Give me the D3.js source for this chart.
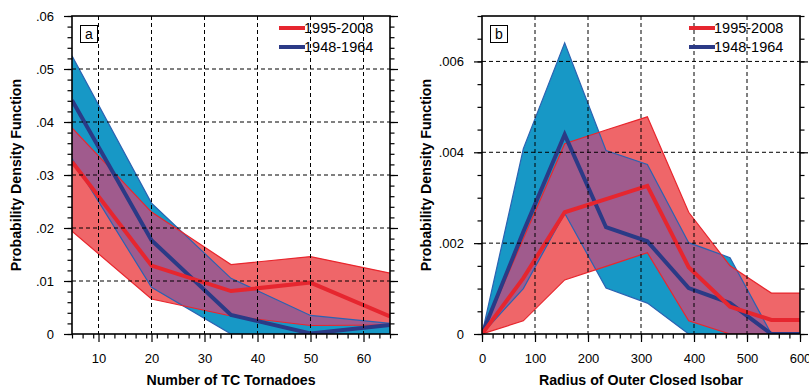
<!DOCTYPE html>
<html>
<head>
<meta charset="utf-8">
<script src="https://cdn.jsdelivr.net/npm/d3@7"></script>
<style>
  body { margin: 0; background: #fff; }
  svg { display: block; font-family: "Liberation Sans", Arial, Helvetica, sans-serif; }
</style>
</head>
<body>
<div id="chart"></div>
<script>
// legend names
var seriesNames = ["1995-2008", "1948-1964"];

// panel a : number of TC tornadoes
var tornadoX = [5, 20, 35, 50, 65];
var tornadoRecentMean = [0.0325, 0.0129, 0.0081, 0.0097, 0.0033];
var tornadoRecentHigh = [0.0389, 0.0230, 0.0131, 0.0146, 0.0115];
var tornadoRecentLow  = [0.0194, 0.0066, 0.0034, 0.0016, 0.0017];
var tornadoEarlyMean  = [0.0441, 0.0177, 0.0036, 0.0001, 0.0017];
var tornadoEarlyHigh  = [0.0525, 0.0247, 0.0105, 0.0035, 0.0020];
var tornadoEarlyLow   = [0.0331, 0.0088, 0.0, 0.0, 0.0];
var tornadoXTicks = [10, 20, 30, 40, 50, 60];
var tornadoYTicks = [0, 0.01, 0.02, 0.03, 0.04, 0.05, 0.06];

// panel b : radius of outer closed isobar
var radiusX = [0, 78, 156, 234, 312, 390, 468, 546, 624];
var radiusRecentMean = [0, 0.00123, 0.00268, 0.00297, 0.00326, 0.00147, 0.00060, 0.00031, 0.00031];
var radiusRecentHigh = [0, 0.00210, 0.00419, 0.00449, 0.00478, 0.00268, 0.00150, 0.00090, 0.00090];
var radiusRecentLow  = [0, 0.00029, 0.00119, 0.00149, 0.00179, 0.00029, 0, 0, 0];
var radiusEarlyMean  = [0, 0.00225, 0.00439, 0.00235, 0.00204, 0.00101, 0.00068, 0, 0];
var radiusEarlyHigh  = [0, 0.00408, 0.00641, 0.00404, 0.00373, 0.00201, 0.00168, 0, 0];
var radiusEarlyLow   = [0, 0.00100, 0.00266, 0.00101, 0.00068, 0, 0, 0, 0];
var radiusXTicks = [0, 100, 200, 300, 400, 500, 600];
var radiusYTicks = [0, 0.002, 0.004, 0.006];

var colors = {
  blueFill: "#1798c6", redFill: "#ef6669", overlap: "#a05b8d",
  blueEdge: "#2b62b2", redEdge: "#e8262d",
  blueMean: "#2b3a86", redMean: "#e6262f"
};

var svg = d3.select("#chart").append("svg")
            .attr("width", 809)
            .attr("height", 391);

function fmtY(d) {
  if (d === 0) return "0";
  return d3.format("")(+d.toPrecision(3)).replace(/^0\./, ".");
}

function drawPanel(p) {
  var x = d3.scaleLinear().domain(p.xDomain).range([p.left, p.right]);
  var y = d3.scaleLinear().domain(p.yDomain).range([p.bottom, p.top]);
  var g = svg.append("g");

  var clipId = "clip-" + p.name;
  g.append("clipPath").attr("id", clipId)
   .append("rect")
   .attr("x", p.left).attr("y", p.top)
   .attr("width", p.right - p.left).attr("height", p.bottom - p.top);

  var blueBand = p.x.map((v, i) => ({x: v, lo: p.earlyLow[i], hi: p.earlyHigh[i]}));
  var redBand  = p.x.map((v, i) => ({x: v, lo: p.recentLow[i], hi: p.recentHigh[i]}));

  var area = d3.area().x(d => x(d.x)).y0(d => y(d.lo)).y1(d => y(d.hi));
  var line = d3.line().x(d => x(d[0])).y(d => y(d[1]));

  var plot = g.append("g").attr("clip-path", "url(#" + clipId + ")");

  plot.append("path").attr("d", area(blueBand)).attr("fill", colors.blueFill);
  plot.append("path").attr("d", area(redBand)).attr("fill", colors.redFill);

  // overlap of both bands
  var ovId = "ov-" + p.name;
  g.append("clipPath").attr("id", ovId).append("path").attr("d", area(blueBand));
  plot.append("g").attr("clip-path", "url(#" + ovId + ")")
      .append("path").attr("d", area(redBand)).attr("fill", colors.overlap);

  // grid
  p.xTicks.forEach(function(t) {
    if (x(t) <= p.left + 1 || x(t) >= p.right - 1) return;
    g.append("line").attr("x1", x(t)).attr("x2", x(t)).attr("y1", p.top).attr("y2", p.bottom)
     .attr("stroke", "#000").attr("stroke-width", 1).attr("stroke-dasharray", "4,3");
  });
  p.yTicks.forEach(function(t) {
    if (y(t) >= p.bottom - 1 || y(t) <= p.top + 1) return;
    g.append("line").attr("x1", p.left).attr("x2", p.right).attr("y1", y(t)).attr("y2", y(t))
     .attr("stroke", "#000").attr("stroke-width", 1).attr("stroke-dasharray", "4,3");
  });

  // band edges
  [[p.earlyHigh, colors.blueEdge], [p.earlyLow, colors.blueEdge],
   [p.recentHigh, colors.redEdge], [p.recentLow, colors.redEdge]].forEach(function(s) {
    plot.append("path").attr("d", line(p.x.map((v, i) => [v, s[0][i]])))
        .attr("fill", "none").attr("stroke", s[1]).attr("stroke-width", 1.2);
  });

  // means
  plot.append("path").attr("d", line(p.x.map((v, i) => [v, p.earlyMean[i]])))
      .attr("fill", "none").attr("stroke", colors.blueMean).attr("stroke-width", 4)
      .attr("stroke-linejoin", "miter");
  plot.append("path").attr("d", line(p.x.map((v, i) => [v, p.recentMean[i]])))
      .attr("fill", "none").attr("stroke", colors.redMean).attr("stroke-width", 4)
      .attr("stroke-linejoin", "miter");

  // axes
  var xMinor = d3.range(p.xDomain[0], p.xDomain[1] + 1e-9, p.xMinorStep);
  var yMinor = d3.range(p.yDomain[0], p.yDomain[1] + 1e-12, p.yMinorStep);

  g.append("g").attr("transform", "translate(0," + p.bottom + ")")
   .call(d3.axisBottom(x).tickValues(xMinor).tickSize(4.5).tickSizeOuter(0).tickFormat(""));
  g.append("g").attr("transform", "translate(0," + p.bottom + ")")
   .call(d3.axisBottom(x).tickValues(p.xTicks).tickSize(8).tickSizeOuter(0).tickPadding(12));
  g.append("g").attr("transform", "translate(" + p.left + ",0)")
   .call(d3.axisLeft(y).tickValues(yMinor).tickSize(4.5).tickSizeOuter(0).tickFormat(""));
  g.append("g").attr("transform", "translate(" + p.left + ",0)")
   .call(d3.axisLeft(y).tickValues(p.yTicks).tickSize(8).tickSizeOuter(0).tickPadding(10).tickFormat(fmtY));
  g.append("g").attr("transform", "translate(" + p.right + ",0)")
   .call(d3.axisRight(y).tickValues(yMinor).tickSize(4.5).tickSizeOuter(0).tickFormat(""));
  g.append("g").attr("transform", "translate(" + p.right + ",0)")
   .call(d3.axisRight(y).tickValues(p.yTicks).tickSize(8).tickSizeOuter(0).tickFormat(""));

  g.selectAll(".domain").remove();
  g.selectAll(".tick line").attr("stroke", "#000").attr("stroke-width", 1.2);
  g.selectAll(".tick text").attr("font-size", 13).attr("font-family", null).attr("fill", "#000");

  g.append("rect")
   .attr("x", p.left).attr("y", p.top)
   .attr("width", p.right - p.left).attr("height", p.bottom - p.top)
   .attr("fill", "none").attr("stroke", "#000").attr("stroke-width", 1.6);

  // titles
  g.append("text")
   .attr("x", (p.left + p.right) / 2).attr("y", 384.5)
   .attr("text-anchor", "middle").attr("font-size", 14.2).attr("font-weight", "bold")
   .text(p.xTitle);
  g.append("text")
   .attr("transform", "translate(" + (p.left - 51.5) + "," + ((p.top + p.bottom) / 2) + ") rotate(-90)")
   .attr("text-anchor", "middle").attr("font-size", 14.2).attr("font-weight", "bold")
   .text("Probability Density Function");

  // panel label
  g.append("rect").attr("x", p.left + 8.5).attr("y", 25.5).attr("width", 17).attr("height", 17)
   .attr("fill", "#fff").attr("stroke", "#000").attr("stroke-width", 1);
  g.append("text").attr("x", p.left + 17).attr("y", 38.5)
   .attr("text-anchor", "middle").attr("font-size", 14).text(p.name);

  // legend
  var lx = p.right - 111;
  [colors.redMean, colors.blueMean].forEach(function(c, i) {
    var ly = 28 + i * 19;
    g.append("line").attr("x1", lx).attr("x2", lx + 26).attr("y1", ly).attr("y2", ly)
     .attr("stroke", c).attr("stroke-width", 4);
    g.append("text").attr("x", lx + 25).attr("y", ly + 5)
     .attr("font-size", 14.5).text(seriesNames[i]);
  });
}

drawPanel({
  name: "a", left: 72, right: 390, top: 16, bottom: 334,
  xDomain: [5, 65], yDomain: [0, 0.06], xMinorStep: 2, yMinorStep: 0.002,
  xTicks: tornadoXTicks, yTicks: tornadoYTicks,
  x: tornadoX,
  recentMean: tornadoRecentMean, recentHigh: tornadoRecentHigh, recentLow: tornadoRecentLow,
  earlyMean: tornadoEarlyMean, earlyHigh: tornadoEarlyHigh, earlyLow: tornadoEarlyLow,
  xTitle: "Number of TC Tornadoes"
});

drawPanel({
  name: "b", left: 482, right: 800, top: 16, bottom: 334,
  xDomain: [0, 600], yDomain: [0, 0.007], xMinorStep: 20, yMinorStep: 0.0005,
  xTicks: radiusXTicks, yTicks: radiusYTicks,
  x: radiusX,
  recentMean: radiusRecentMean, recentHigh: radiusRecentHigh, recentLow: radiusRecentLow,
  earlyMean: radiusEarlyMean, earlyHigh: radiusEarlyHigh, earlyLow: radiusEarlyLow,
  xTitle: "Radius of Outer Closed Isobar"
});
</script>
</body>
</html>
